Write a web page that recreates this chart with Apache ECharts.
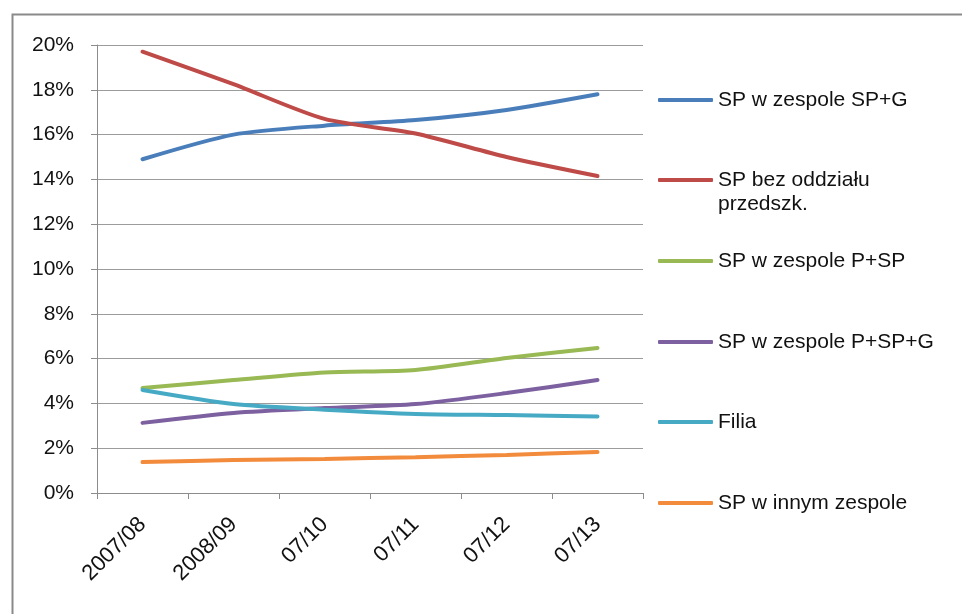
<!DOCTYPE html>
<html><head><meta charset="utf-8">
<script src="https://cdn.jsdelivr.net/npm/echarts@6/dist/echarts.min.js"></script>
<style>html,body{margin:0;padding:0;background:#fff}#c{width:962px;height:614px}</style>
</head><body><div id="c"></div>
<script>
var categories = ['2007/08', '2008/09', '07/10', '07/11', '07/12', '07/13'];
var yTicks = [0, 0.02, 0.04, 0.06, 0.08, 0.10, 0.12, 0.14, 0.16, 0.18, 0.20];
var seriesNames = ['SP w zespole SP+G', 'SP bez oddziału przedszk.', 'SP w zespole P+SP', 'SP w zespole P+SP+G', 'Filia', 'SP w innym zespole'];
var spZespoleSPG = [0.149, 0.160, 0.164, 0.1665, 0.171, 0.178];
var spBezOddzialu = [0.197, 0.1825, 0.167, 0.1605, 0.150, 0.1415];
var spZespolePSP = [0.0469, 0.0504, 0.0538, 0.0549, 0.0603, 0.0647];
var spZespolePSPG = [0.0313, 0.0357, 0.0379, 0.0397, 0.0446, 0.0504];
var filia = [0.046, 0.0397, 0.0372, 0.0353, 0.0348, 0.0342];
var spInnymZespole = [0.0138, 0.0147, 0.0152, 0.0160, 0.0170, 0.0183];
var seriesData = [spZespoleSPG, spBezOddzialu, spZespolePSP, spZespolePSPG, filia, spInnymZespole];
var colors = ['#4A7EBB', '#BE4B48', '#98B954', '#7D60A0', '#46AAC5', '#F38B3C'];

var FONT = 'Liberation Sans, Arial, sans-serif';
var legendTops = [100, 180, 261, 342, 422, 503];
var chart = echarts.init(document.getElementById('c'));
var legends = seriesNames.map(function (n, i) {
  var twoLine = i === 1;
  return {
    data: [n], orient: 'vertical', left: 658,
    top: twoLine ? legendTops[i] - 36 : legendTops[i] - 12,
    itemWidth: 55, itemHeight: 4, padding: 0, icon: 'roundRect',
    selectedMode: false,
    formatter: function (name) { return twoLine ? '\nSP bez oddziału\nprzedszk.' : name; },
    textStyle: { fontFamily: FONT, fontSize: 21, color: '#111', lineHeight: 24 }
  };
});
chart.setOption({
  animation: false,
  color: colors,
  grid: { left: 97, right: 319, top: 45, bottom: 121, containLabel: false },
  graphic: [{ type: 'rect', left: 10, top: 12, shape: { width: 1000, height: 700 }, style: { fill: 'none', stroke: '#8a8a8a', lineWidth: 2 }, silent: true }],
  legend: legends,
  xAxis: {
    type: 'category', data: categories, boundaryGap: true,
    axisLine: { lineStyle: { color: '#8c8c8c', width: 1 } },
    axisTick: { show: true, length: 6, lineStyle: { color: '#8c8c8c' } },
    axisLabel: { rotate: 45, margin: 28, fontFamily: FONT, fontSize: 22, color: '#111' }
  },
  yAxis: {
    type: 'value', min: 0, max: 0.2, interval: 0.02,
    axisLine: { show: true, lineStyle: { color: '#8c8c8c', width: 1 } },
    axisTick: { show: true, length: 6, lineStyle: { color: '#8c8c8c' } },
    splitLine: { lineStyle: { color: '#9c9c9c', width: 1 } },
    axisLabel: { margin: 23, fontFamily: FONT, fontSize: 21, color: '#111',
      formatter: function (v) { return Math.round(v * 100) + '%'; } }
  },
  series: seriesNames.map(function (n, i) {
    return { name: n, type: 'line', data: seriesData[i], smooth: 0.25, symbol: 'none', showSymbol: false,
      lineStyle: { width: 4, color: colors[i], cap: 'round' }, itemStyle: { color: colors[i] } };
  })
});
</script></body></html>
